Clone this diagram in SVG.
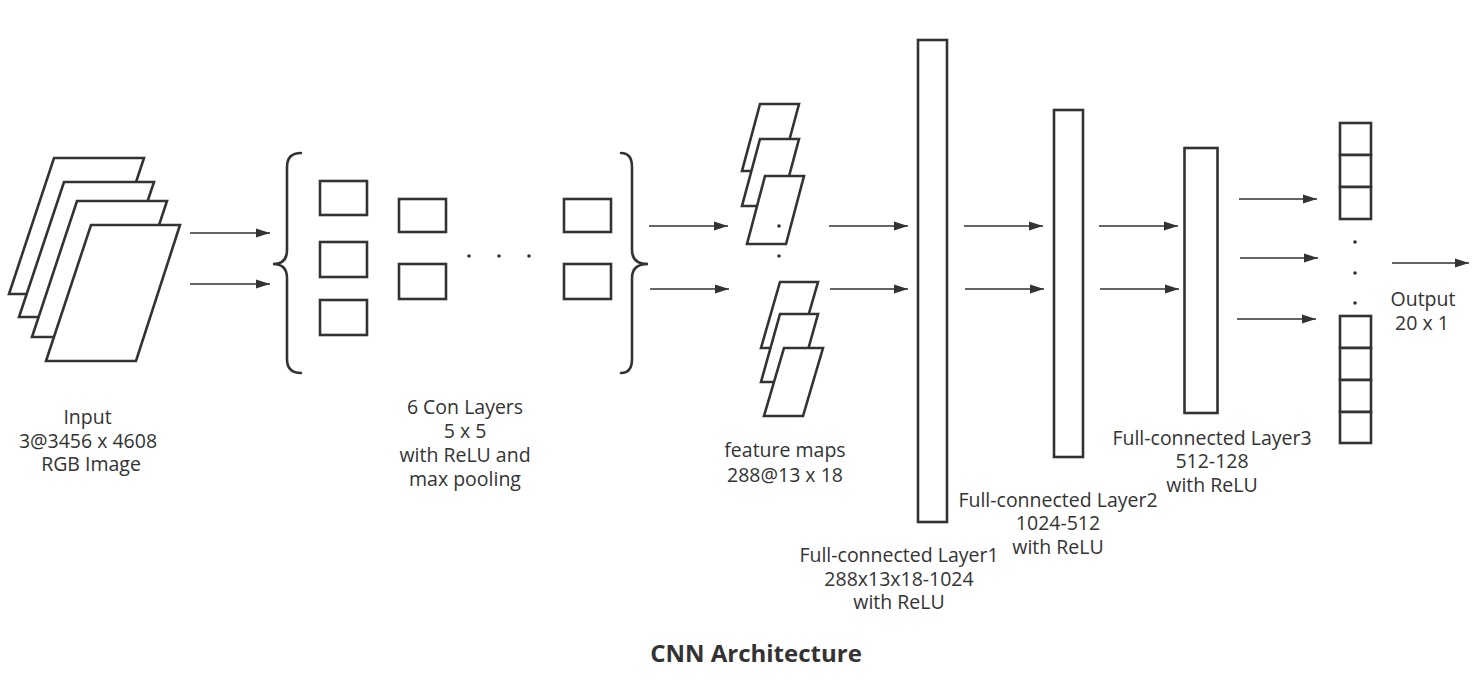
<svg xmlns="http://www.w3.org/2000/svg" width="1484" height="688" viewBox="0 0 1484 688">
  <style>
    .shape { fill: #ffffff; stroke: #333333; stroke-width: 2.6; stroke-linejoin: miter; }
    .brace { fill: none; stroke: #333333; stroke-width: 2.6; stroke-linecap: round; }
    .arrow { fill: none; stroke: #333333; stroke-width: 1.4; marker-end: url(#ah); }
    .dot { fill: #333333; }
    .lbl { font-family: "Open Sans", "Noto Sans", sans-serif; font-size: 19.5px; fill: #333333; text-anchor: middle; }
    .title { font-family: "Open Sans", "Noto Sans", sans-serif; font-size: 24px; font-weight: bold; fill: #333333; text-anchor: middle; }
  </style>
  <defs>
    <marker id="ah" markerUnits="userSpaceOnUse" markerWidth="16" markerHeight="12" refX="14" refY="5" orient="auto">
      <path d="M0,0.5 L14,5 L0,9.5 Z" fill="#333333"/>
    </marker>
  </defs>
  <rect width="1484" height="688" fill="#ffffff"/>

  <g id="input">
    <polygon class="shape" points="54,158 144,158 99,294 9,294"/>
    <polygon class="shape" points="64,182 154,182 109,317 19,317"/>
    <polygon class="shape" points="77,201 167,201 122,337 32,337"/>
    <polygon class="shape" points="91,225 180,225 136,361 46,361"/>
    <text class="lbl" x="87.5" y="424">Input</text>
    <text class="lbl" x="88" y="448">3@3456 x 4608</text>
    <text class="lbl" x="91" y="471">RGB Image</text>
  </g>

  <g id="conv-layers">
    <path class="brace" d="M301,153 Q287,153 287,167 L287,250 Q287,264 273,264 Q287,264 287,278 L287,359 Q287,373 301,373"/>
    <path class="brace" d="M621,153 Q632,153 632,167 L632,250 Q632,264 648,264 Q632,264 632,278 L632,359 Q632,373 621,373"/>
    <rect class="shape" x="320" y="181" width="47" height="34"/>
    <rect class="shape" x="320" y="242" width="47" height="35"/>
    <rect class="shape" x="320" y="300" width="47" height="35"/>
    <rect class="shape" x="399" y="199" width="47" height="33"/>
    <rect class="shape" x="399" y="264" width="47" height="35"/>
    <rect class="shape" x="564" y="199" width="47" height="33"/>
    <rect class="shape" x="564" y="264" width="47" height="35"/>
    <circle class="dot" cx="469" cy="256" r="1.8"/>
    <circle class="dot" cx="499" cy="256" r="1.8"/>
    <circle class="dot" cx="529" cy="256" r="1.8"/>
    <text class="lbl" x="465" y="414">6 Con Layers</text>
    <text class="lbl" x="465" y="438">5 x 5</text>
    <text class="lbl" x="465" y="462">with ReLU and</text>
    <text class="lbl" x="465" y="486">max pooling</text>
  </g>

  <g id="feature-maps">
    <polygon class="shape" points="760,104 799,104 781,171 742,171"/>
    <polygon class="shape" points="760,139 799,139 781,206 742,206"/>
    <polygon class="shape" points="765,176 804,176 786,244 747,244"/>
    <circle class="dot" cx="779" cy="226" r="1.8"/>
    <circle class="dot" cx="779" cy="256" r="1.8"/>
    <polygon class="shape" points="780,282 818,282 799,348 761,348"/>
    <polygon class="shape" points="780,314 818,314 799,382 761,382"/>
    <polygon class="shape" points="784,348 823,348 803,416 764,416"/>
    <text class="lbl" x="785" y="457">feature maps</text>
    <text class="lbl" x="785" y="482">288@13 x 18</text>
  </g>

  <g id="fc1">
    <rect class="shape" x="918" y="40" width="29" height="482"/>
    <text class="lbl" x="899" y="562">Full-connected Layer1</text>
    <text class="lbl" x="899" y="586">288x13x18-1024</text>
    <text class="lbl" x="899" y="609">with ReLU</text>
  </g>

  <g id="fc2">
    <rect class="shape" x="1054" y="110" width="29" height="347"/>
    <text class="lbl" x="1058" y="507">Full-connected Layer2</text>
    <text class="lbl" x="1058" y="530">1024-512</text>
    <text class="lbl" x="1058" y="554">with ReLU</text>
  </g>

  <g id="fc3">
    <rect class="shape" x="1184.5" y="148" width="33" height="265"/>
    <text class="lbl" x="1212" y="445">Full-connected Layer3</text>
    <text class="lbl" x="1212" y="468">512-128</text>
    <text class="lbl" x="1212" y="492">with ReLU</text>
  </g>

  <g id="output">
    <rect class="shape" x="1340" y="123" width="31" height="32"/>
    <rect class="shape" x="1340" y="155" width="31" height="32"/>
    <rect class="shape" x="1340" y="187" width="31" height="32"/>
    <circle class="dot" cx="1355" cy="242" r="1.8"/>
    <circle class="dot" cx="1355" cy="273" r="1.8"/>
    <circle class="dot" cx="1355" cy="303" r="1.8"/>
    <rect class="shape" x="1340" y="316" width="31" height="32"/>
    <rect class="shape" x="1340" y="348" width="31" height="32"/>
    <rect class="shape" x="1340" y="380" width="31" height="32"/>
    <rect class="shape" x="1340" y="412" width="31" height="31"/>
    <text class="lbl" x="1423" y="306">Output</text>
    <text class="lbl" x="1422" y="330">20 x 1</text>
  </g>

  <g id="connectors">
    <line class="arrow" x1="190" y1="233" x2="270" y2="233"/>
    <line class="arrow" x1="190" y1="284" x2="270" y2="284"/>
    <line class="arrow" x1="649" y1="226" x2="728" y2="226"/>
    <line class="arrow" x1="650" y1="289" x2="729" y2="289"/>
    <line class="arrow" x1="829" y1="226" x2="908" y2="226"/>
    <line class="arrow" x1="830" y1="289" x2="908" y2="289"/>
    <line class="arrow" x1="964" y1="226" x2="1043" y2="226"/>
    <line class="arrow" x1="965" y1="289" x2="1044" y2="289"/>
    <line class="arrow" x1="1099" y1="226" x2="1178" y2="226"/>
    <line class="arrow" x1="1100" y1="289" x2="1179" y2="289"/>
    <line class="arrow" x1="1239" y1="199" x2="1317" y2="199"/>
    <line class="arrow" x1="1240" y1="258" x2="1318" y2="258"/>
    <line class="arrow" x1="1237" y1="319" x2="1316" y2="319"/>
    <line class="arrow" x1="1392" y1="263" x2="1469" y2="263"/>
  </g>

  <text class="title" x="756" y="662">CNN Architecture</text>
</svg>
